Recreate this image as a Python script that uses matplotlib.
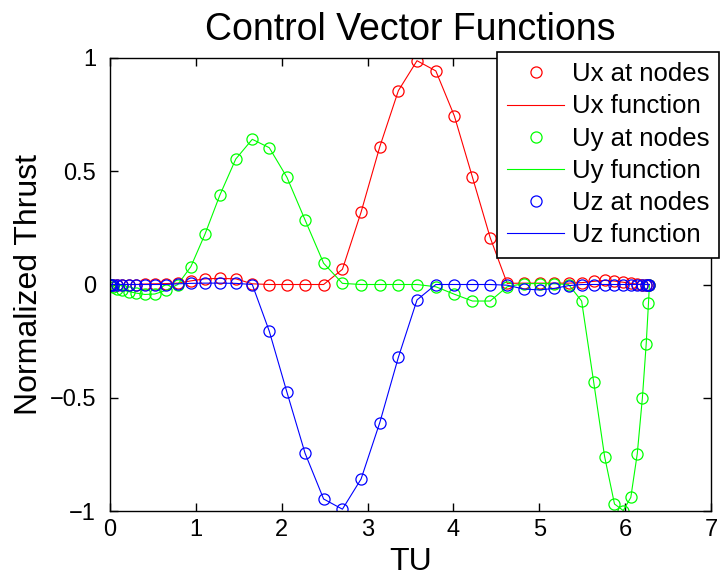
import matplotlib
matplotlib.use('Agg')
import matplotlib.pyplot as plt

plt.rcParams['font.family'] = ['Liberation Sans', 'DejaVu Sans']

# node times (TU)
tu = [0.0, 0.011, 0.038, 0.082, 0.142, 0.217, 0.305, 0.407, 0.522, 0.650,
      0.790, 0.942, 1.106, 1.280, 1.465, 1.657, 1.855, 2.061, 2.272, 2.488,
      2.707, 2.924, 3.142, 3.359, 3.576, 3.795, 4.011, 4.222, 4.428, 4.626,
      4.818, 5.003, 5.177, 5.341, 5.493, 5.633, 5.761, 5.876, 5.978, 6.066,
      6.141, 6.201, 6.245, 6.272, 6.283]

ux = [0, 0, 0, 0, 0, 0, 0, 0.002, 0.003, 0.004,
      0.006, 0.016, 0.025, 0.027, 0.025, 0.003, 0, 0, 0, 0,
      0.067, 0.319, 0.608, 0.856, 0.988, 0.943, 0.744, 0.473, 0.207, 0.005,
      0.006, 0.006, 0.006, 0.006, 0.008, 0.014, 0.018, 0.015, 0.010, 0.005,
      0.002, 0, 0, 0, 0]

uy = [0, -0.003, -0.010, -0.018, -0.025, -0.031, -0.038, -0.044, -0.042, -0.026,
      0.0, 0.079, 0.222, 0.395, 0.554, 0.641, 0.604, 0.473, 0.285, 0.094,
      0.005, 0, 0, 0, 0, -0.010, -0.043, -0.073, -0.073, -0.010,
      0.004, 0.004, 0.003, 0.0, -0.073, -0.429, -0.760, -0.969, -0.998, -0.940,
      -0.748, -0.500, -0.264, -0.081, 0.0]

uz = [0, 0, 0, 0, 0, 0, 0, 0, 0, 0,
      0.003, 0.005, 0.006, 0.006, 0.005, 0.0, -0.206, -0.476, -0.745, -0.947,
      -0.992, -0.859, -0.610, -0.321, -0.068, 0, 0, 0, 0, -0.003,
      -0.020, -0.024, -0.017, -0.005, 0, 0, 0, 0, 0, 0,
      0, 0, 0, 0, 0]

fig = plt.figure(figsize=(7.21, 5.81), dpi=100)
ax = fig.add_axes([110/721, 1 - 511/581, 601/721, 453/581])

ms = 8
ax.plot(tu, ux, 'o', color='r', mfc='none', ms=ms, mew=0.9, label='Ux at nodes')
ax.plot(tu, ux, '-', color='r', lw=0.8, label='Ux function')
ax.plot(tu, uy, 'o', color=(0, 1, 0), mfc='none', ms=ms, mew=0.9, label='Uy at nodes')
ax.plot(tu, uy, '-', color=(0, 1, 0), lw=0.8, label='Uy function')
ax.plot(tu, uz, 'o', color='b', mfc='none', ms=ms, mew=0.9, label='Uz at nodes')
ax.plot(tu, uz, '-', color='b', lw=0.8, label='Uz function')

ax.set_xlim(0, 7)
ax.set_ylim(-1, 1)
ax.set_xticks(range(0, 8))
ax.set_yticks([-1, -0.5, 0, 0.5, 1])
ax.set_yticklabels(['\u22121', '\u22120.5', '0', '0.5', '1'])
ax.tick_params(direction='in', top=True, right=True, length=6, width=1,
               labelsize=17, pad=6)
ax.tick_params(axis='y', pad=10)
for s in ax.spines.values():
    s.set_linewidth(1.0)

ax.set_title('Control Vector Functions', fontsize=27, pad=13)
ax.set_xlabel('TU', fontsize=23, labelpad=4)
ax.set_ylabel('Normalized Thrust', fontsize=23, labelpad=4)

leg = fig.legend(loc='upper left', bbox_to_anchor=(497/721, 1 - 52/581),
                 borderaxespad=0, fontsize=18.5, handlelength=2.2,
                 handletextpad=0.3, labelspacing=0.32, borderpad=0.4,
                 fancybox=False, framealpha=1, edgecolor='black')
leg.get_frame().set_linewidth(1.2)

fig.savefig('out.png', dpi=100)
